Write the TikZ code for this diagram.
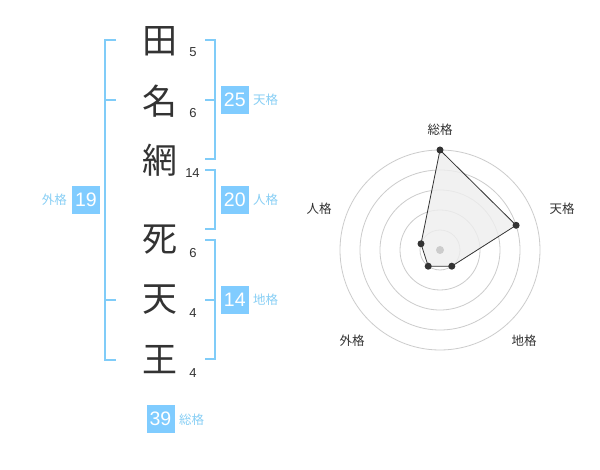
\documentclass[tikz,border=0pt]{standalone}
\usepackage{fontspec}
\setmainfont{Liberation Sans}
\newfontfamily\jpfont{Noto Sans CJK JP}
\definecolor{brk}{HTML}{80CCF8}
\definecolor{boxc}{HTML}{80CCFF}
\definecolor{lblc}{HTML}{88CFF5}
\definecolor{ink}{HTML}{333333}
\definecolor{ringc}{HTML}{CCCCCC}
\definecolor{polyfill}{HTML}{EEEEEE}
\tikzset{
  kanji/.style={font=\jpfont\fontsize{35}{35}\selectfont, text=ink, inner sep=0pt},
  strokes/.style={font=\fontsize{13}{13}\selectfont, text=ink, inner sep=0pt},
  numbox/.style={fill=boxc, text=white, minimum width=28pt, minimum height=28pt, inner sep=0pt, font=\fontsize{19.5}{19.5}\selectfont},
  kaku/.style={font=\jpfont\fontsize{12.5}{12.5}\selectfont, text=lblc, inner sep=0pt},
  bracket/.style={draw=brk, line width=2pt},
  ring/.style={draw=ringc, line width=0.8pt},
  axislbl/.style={font=\jpfont\fontsize{12.5}{12.5}\selectfont, text=ink, inner sep=0pt},
  dot/.style={circle, fill=ink, inner sep=0pt, minimum size=7pt},
}
\begin{document}
\begin{tikzpicture}[x=1pt,y=-1pt]
\useasboundingbox (0,0) rectangle (600,470);
\fill[white] (0,0) rectangle (600,470);
% kanji
\node[kanji] (k1) at (160,41) {田};
\node[kanji] (k2) at (160,101) {名};
\node[kanji] (k3) at (160,160) {網};
\node[kanji] (k4) at (160,240) {死};
\node[kanji] (k5) at (160,300) {天};
\node[kanji] (k6) at (160,360) {王};
% stroke counts
\node[strokes] (s1) at (193,52) {5};
\node[strokes] (s2) at (193,113) {6};
\node[strokes] (s3) at (192.5,173) {14};
\node[strokes] (s4) at (193,253) {6};
\node[strokes] (s5) at (193,313) {4};
\node[strokes] (s6) at (193,373) {4};
% left bracket (gaikaku)
\coordinate (la) at (116,40);
\coordinate (lb) at (116,360);
\draw[bracket] (la) -- (105,40) -- (105,360) -- (lb);
\draw[bracket] (105,100) -- (116,100);
\draw[bracket] (105,300) -- (116,300);
\node[numbox] (b19) at (86,200) {19};
\node[kaku, anchor=east] (g19) at (67,200) {外格};
% right brackets
\draw[bracket] (205,40) -- (215,40) -- (215,159.5) -- (205,159.5);
\draw[bracket] (205,100) -- (215,100);
\draw[bracket] (205,170) -- (215,170) -- (215,229.5) -- (205,229.5);
\draw[bracket] (205,240) -- (215,240) -- (215,359.5) -- (205,359.5);
\draw[bracket] (205,300) -- (215,300);
\node[numbox] (b25) at (234.8,100) {25};
\node[kaku, anchor=west] (t25) at (253,100) {天格};
\node[numbox] (b20) at (234.8,200) {20};
\node[kaku, anchor=west] (t20) at (253,200) {人格};
\node[numbox] (b14) at (234.8,300) {14};
\node[kaku, anchor=west] (t14) at (253,300) {地格};
\node[numbox] (b39) at (160.5,419) {39};
\node[kaku, anchor=west] (t39) at (179,420) {総格};
% radar chart
\coordinate (c) at (440,250);
\foreach \r in {20,40,60,80,100} \draw[ring] (c) circle[radius=\r];
\coordinate (p1) at (440,150);
\coordinate (p2) at (516.1,225.3);
\coordinate (p3) at (451.8,266.2);
\coordinate (p4) at (428.2,266.2);
\coordinate (p5) at (421,243.8);
\filldraw[fill=polyfill, fill opacity=0.8, draw=ink, line width=0.8pt] (p1) -- (p2) -- (p3) -- (p4) -- (p5) -- cycle;
\fill[ringc] (c) circle[radius=4];
\foreach \p in {p1,p2,p3,p4,p5} \node[dot] at (\p) {};
\node[axislbl] (a1) at (440,130) {総格};
\node[axislbl] (a2) at (562,208.5) {天格};
\node[axislbl] (a3) at (524,341) {地格};
\node[axislbl] (a4) at (352,341) {外格};
\node[axislbl] (a5) at (319,208.5) {人格};
\end{tikzpicture}
\end{document}
